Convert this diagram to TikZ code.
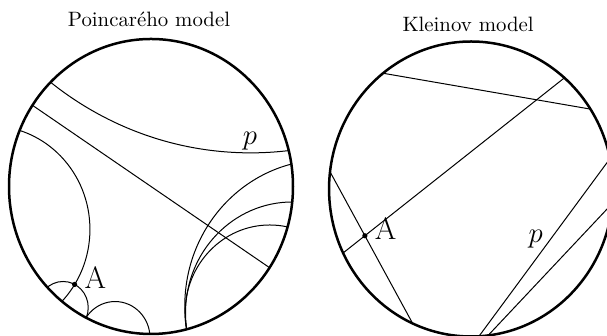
\documentclass[tikz,border=0pt]{standalone}
\usepackage{amsmath}
\usetikzlibrary{calc}
\tikzset{
  disk/.style={draw=black,line width=1.25pt},
  geo/.style={draw=black,line width=0.5pt},
  dot/.style={circle,fill=black,inner sep=0pt,minimum size=2.6pt},
  modeltitle/.style={font=\fontsize{10.4}{12}\selectfont,anchor=base},
  ptlabel/.style={font=\fontsize{15.5}{18}\selectfont,anchor=base,xshift=10.4pt,yshift=-1.9pt},
  linelabel/.style={font=\Large,anchor=base}
}

\begin{document}
\begin{tikzpicture}[x=71pt,y=73.75pt]
\useasboundingbox (-1.0634,-1.0136) rectangle (3.2113,1.2644);

% Poincare disk
\node[modeltitle] (ptitle) at (-0.014,1.083) {Poincarého model};
\begin{scope}
\clip (0,0) circle[radius=1];
\draw[geo] (0.702,2.541) circle[radius=2.313];
\draw[geo] (146.6:1.1) -- (-33.4:1.1);
\draw[geo] (-1.132,-0.291) circle[radius=0.702];
\draw[geo] (-0.619,-0.821) circle[radius=0.177];
\draw[geo] (-0.253,-1.026) circle[radius=0.246];
\draw[geo] (1.228,-0.809) circle[radius=0.990];
\draw[geo] (0.995,-0.857) circle[radius=0.752];
\draw[geo] (0.836,-0.857) circle[radius=0.596];
\end{scope}
\draw[disk] (0,0) circle[radius=1];
\coordinate (pA) at (-0.538,-0.664);
\node[dot] (pdot) at (pA) {};
\node[ptlabel] (pAname) at (pA) {A};
\node[linelabel] (pp) at (0.697,0.286) {$p$};

% Klein disk
\begin{scope}[shift={(2.254,-0.017)}]
\node[modeltitle] (ktitle) at (-0.021,1.066) {Kleinov model};
\coordinate (k1a) at (128.3:1);
\coordinate (k1b) at (32.8:1);
\coordinate (k2a) at (48.9:1);
\coordinate (k2b) at (205.7:1);
\coordinate (k3a) at (173.3:1);
\coordinate (k3b) at (245.7:1);
\coordinate (kpa) at (-86.8:1);
\coordinate (kpb) at (11.9:1);
\coordinate (k4a) at (-83.1:1);
\coordinate (k4b) at (-5.6:1);

\draw[geo](k1a)--(k1b);\draw[geo](k2a)--(k2b);\draw[geo](k3a)--(k3b);\draw[geo](kpa)--(kpb);\draw[geo](k4a)--(k4b);
\draw[disk] (0,0) circle[radius=1];

\coordinate (kA) at (intersection of k2a--k2b and k3a--k3b);
\node[dot] (kdot) at (kA) {};
\node[ptlabel] (kAname) at (kA) {A};
\node[linelabel] (kp) at (0.456,-0.363) {$p$};
\end{scope}
\end{tikzpicture}
\end{document}
